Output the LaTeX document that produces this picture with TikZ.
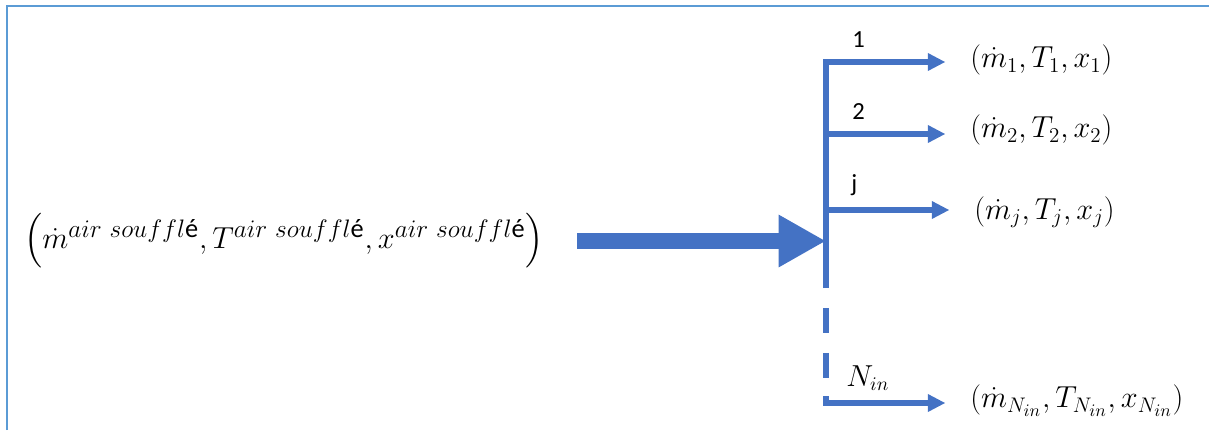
\documentclass[tikz,border=0pt]{standalone}
\usepackage{amsmath}
\usepackage{fontspec}
\newfontfamily\calibri{Carlito}
\usetikzlibrary{arrows.meta}
\definecolor{flowblue}{RGB}{68,114,196}
\definecolor{frameblue}{RGB}{91,155,213}
\DeclareMathSizes{17}{17}{13}{10}
\newcommand{\airsup}{\mbox{\fontsize{15}{17}\selectfont$air\ souffl$\calibri é}}

\begin{document}
\begin{tikzpicture}[x=0.02cm,y=-0.02cm]

%
% Styles
%
\tikzstyle{frame}  = [draw=frameblue,line width=1.3pt]
\tikzstyle{trunk}  = [draw=flowblue,line width=3pt]
\tikzstyle{branch} = [draw=flowblue,line width=3pt,-{Triangle[length=10pt,width=9.5pt]},shorten >=14pt]
\tikzstyle{feed}   = [draw=flowblue,line width=9pt,-{Triangle[length=27pt,width=28pt]},shorten <=19pt]
\tikzstyle{tag}    = [anchor=base west,inner sep=0pt,font=\calibri\fontsize{14}{17}\selectfont]
\tikzstyle{state}  = [anchor=west,inner sep=0pt,font=\fontsize{17}{20}\selectfont]

\useasboundingbox (0,0) rectangle (1209,430);
\draw[frame] (7,430) -- (7,6) -- (1209,6);

% junction points on the collector
\coordinate (t1)   at (826,62);
\coordinate (t2)   at (826,134);
\coordinate (tj)   at (826,210);
\coordinate (mix)  at (826,241);
\coordinate (tend) at (826,288);
\coordinate (d1)   at (826,308);
\coordinate (d2)   at (826,378);
\coordinate (tN0)  at (826,396);
\coordinate (tN)   at (826,403);

% states
\node[state,anchor=center] (in) at (284,241)
  {$\left(\dot m^{\airsup}, T^{\airsup}, x^{\airsup}\right)$};
\node[state] (o1) at (970,60)  {$(\dot m_1, T_1, x_1)$};
\node[state] (o2) at (970,130) {$(\dot m_2, T_2, x_2)$};
\node[state] (oj) at (974,212) {$\left(\dot m_j, T_j, x_j\right)$};
\node[state] (oN) at (970,401) {$\left(\dot m_{N_{in}}, T_{N_{in}}, x_{N_{in}}\right)$};

% branch numbers
\node[tag] (n1) at (852,47)  {1};
\node[tag] (n2) at (852,119) {2};
\node[tag] (nj) at (851,191) {j};
\node[tag,font=\fontsize{16}{19}\selectfont] (nN) at (846,386) {$N_{in}$};

% flows
\draw[feed]   (in.east) -- (mix);
\draw[branch] (tend) -- (t1) -- (o1.west |- t1);
\draw[branch] (t2) -- (o2.west |- t2);
\draw[branch] (tj) -- (oj.west |- tj);
\draw[trunk,dash pattern=on 14.2pt off 11.3pt] (d1) -- (d2);
\draw[branch] (tN0) -- (tN) -- (oN.west |- tN);

\end{tikzpicture}
\end{document}
